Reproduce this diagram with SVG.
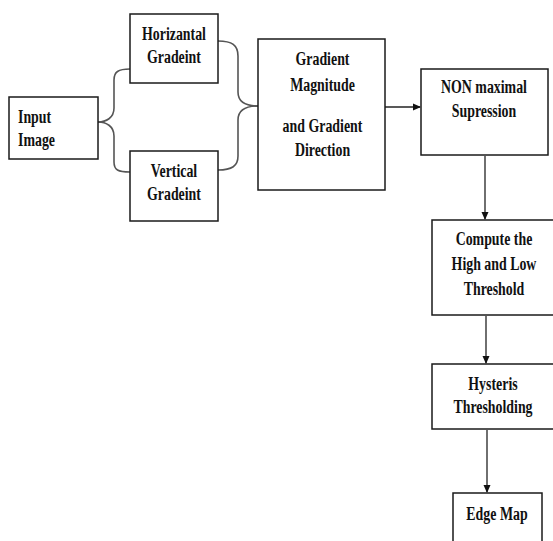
<svg xmlns="http://www.w3.org/2000/svg" width="553" height="541" viewBox="0 0 553 541">
<style>
.box{fill:#fff;stroke:#1a1a1a;stroke-width:1.5}
.t{font-family:"Liberation Serif","Times New Roman",serif;font-weight:bold;font-size:18.5px;fill:#111;text-anchor:middle}
.tl{text-anchor:start}
.c{fill:none;stroke:#222;stroke-width:1.3}
.br{fill:none;stroke:#555;stroke-width:1.6}
</style>
<defs>
<marker id="ah" markerWidth="8" markerHeight="8" refX="7" refY="4" orient="auto" markerUnits="userSpaceOnUse">
<path d="M0,0.5 L8,4 L0,7.5 Z" fill="#111"/>
</marker>
</defs>
<rect width="553" height="541" fill="#fff"/>
<g id="connectors">
<path class="br" d="M98,122 C106,122 114,118 114,108 L114,80 C114,72 118,69 130,69"/>
<path class="br" d="M98,122 C106,122 114,126 114,136 L114,162 C114,170 118,172 130,172"/>
<path class="br" d="M218,41 C232,41 238,45 238,56 L238,92 C238,102 246,106 258,106"/>
<path class="br" d="M218,170 C232,170 238,166 238,156 L238,120 C238,110 246,106 258,106"/>
<path class="c" d="M385,107 L420,107" marker-end="url(#ah)"/>
<path class="c" d="M485,156 L485,219" marker-end="url(#ah)"/>
<path class="c" d="M486,316 L486,363" marker-end="url(#ah)"/>
<path class="c" d="M487,430 L487,492" marker-end="url(#ah)"/>
</g>
<g id="input">
<rect class="box" x="9" y="97" width="89" height="62"/>
<g transform="matrix(0.75 0 0 1 4.5 0)">
<text class="t tl" x="18" y="123">Input</text>
<text class="t tl" x="18" y="146">Image</text>
</g>
</g>
<g id="horizontal">
<rect class="box" x="130" y="14" width="88" height="69"/>
<g transform="matrix(0.75 0 0 1 43.5 0)">
<text class="t" x="174" y="40.5">Horizantal</text>
<text class="t" x="174" y="63.5">Gradeint</text>
</g>
</g>
<g id="vertical">
<rect class="box" x="130" y="151" width="88" height="70"/>
<g transform="matrix(0.75 0 0 1 43.5 0)">
<text class="t" x="174" y="177.5">Vertical</text>
<text class="t" x="174" y="200.5">Gradeint</text>
</g>
</g>
<g id="magnitude">
<rect class="box" x="258" y="39" width="127" height="151"/>
<g transform="matrix(0.75 0 0 1 80.625 0)">
<text class="t" x="322.5" y="65.5">Gradient</text>
<text class="t" x="322.5" y="91">Magnitude</text>
<text class="t" x="322.5" y="132">and Gradient</text>
<text class="t" x="322.5" y="156.5">Direction</text>
</g>
</g>
<g id="nms">
<rect class="box" x="421" y="69" width="127" height="86"/>
<g transform="matrix(0.75 0 0 1 121 0)">
<text class="t" x="484" y="93.5">NON maximal</text>
<text class="t" x="484" y="117.5">Supression</text>
</g>
</g>
<g id="threshold">
<rect class="box" x="432" y="220" width="130" height="95"/>
<g transform="matrix(0.75 0 0 1 123.5 0)">
<text class="t" x="494" y="245.5">Compute the</text>
<text class="t" x="494" y="270">High and Low</text>
<text class="t" x="494" y="295">Threshold</text>
</g>
</g>
<g id="hysteresis">
<rect class="box" x="432" y="364" width="130" height="65"/>
<g transform="matrix(0.75 0 0 1 123.25 0)">
<text class="t" x="493" y="390">Hysteris</text>
<text class="t" x="493" y="413.5">Thresholding</text>
</g>
</g>
<g id="edgemap">
<rect class="box" x="453" y="493" width="89" height="60"/>
<g transform="matrix(0.75 0 0 1 124.25 0)">
<text class="t" x="497" y="520.5">Edge Map</text>
</g>
</g>
</svg>
